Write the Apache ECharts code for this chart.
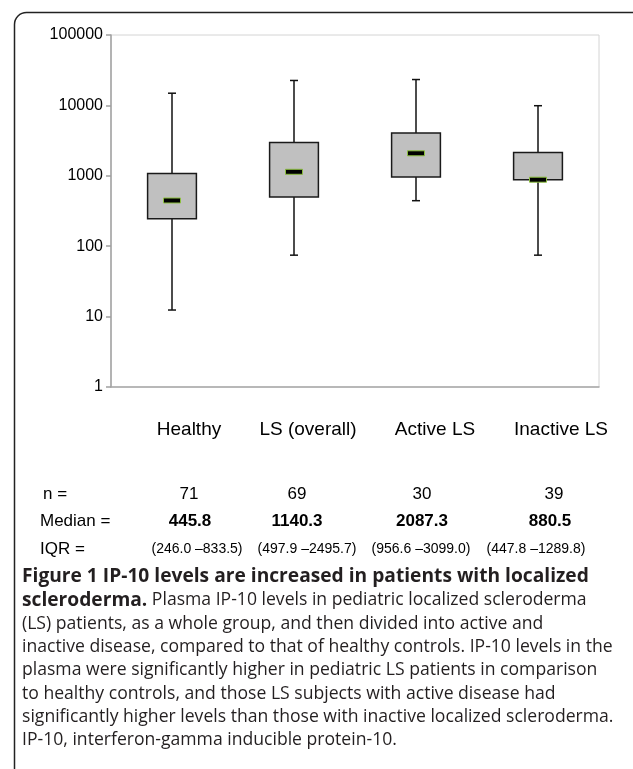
<!DOCTYPE html>
<html>
<head>
<meta charset="utf-8">
<script src="https://cdn.jsdelivr.net/npm/echarts@6/dist/echarts.min.js"></script>
<style>
html,body{margin:0;padding:0;background:#fff;}
#chart{width:633px;height:769px;}
</style>
</head>
<body>
<div id="chart"></div>
<script>
// ---- data ----
const categories = ['Healthy', 'LS (overall)', 'Active LS', 'Inactive LS'];
const whiskerLow  = [12.4, 74.6, 443, 74.6];
const q1          = [246, 499, 958, 877];
const medians     = [445.8, 1140.3, 2087.3, 880.5];
const q3          = [1081, 2975, 4050, 2150];
const whiskerHigh = [14900, 22600, 23300, 9900];
const nValues     = [71, 69, 30, 39];
const medianLabels = ['445.8', '1140.3', '2087.3', '880.5'];
const iqrLabels   = ['(246.0 \u2013833.5)', '(497.9 \u20132495.7)', '(956.6 \u20133099.0)', '(447.8 \u20131289.8)'];
const rowTitles   = ['n =', 'Median =', 'IQR ='];
const captionTitle = 'Figure 1 IP-10 levels are increased in patients with localized';
const captionBoldStart = 'scleroderma.';
const captionLines = [
  ' Plasma IP-10 levels in pediatric localized scleroderma',
  '(LS) patients, as a whole group, and then divided into active and',
  'inactive disease, compared to that of healthy controls. IP-10 levels in the',
  'plasma were significantly higher in pediatric LS patients in comparison',
  'to healthy controls, and those LS subjects with active disease had',
  'significantly higher levels than those with inactive localized scleroderma.',
  'IP-10, interferon-gamma inducible protein-10.'
];

// ---- layout (kept apart from the data) ----
const catShift = [17, 14, 19, 23];
const nShift = [17, 3, 6, 16];
const medShift = [18, 3, 6, 12];
const iqrShift = [25, 13, 5, -2];

function shiftedRich(shifts, extra) {
  const r = {};
  shifts.forEach((s, i) => {
    const st = Object.assign({}, extra);
    st.padding = s >= 0 ? [0, 0, 0, 2 * s] : [0, -2 * s, 0, 0];
    r['s' + i] = st;
  });
  return r;
}
function fmt(list) {
  return function (v, i) { return '{s' + i + '|' + list[i] + '}'; };
}

const boxData = categories.map((c, i) => [i, whiskerLow[i], q1[i], medians[i], q3[i], whiskerHigh[i]]);

const chart = echarts.init(document.getElementById('chart'), null, {renderer: 'canvas'});

const labelFont = 'Liberation Sans, Arial, sans-serif';
const capFont = '"Open Sans", sans-serif';
const capBody = '17.6px ' + capFont;
const capBold = 'bold 19.2px ' + capFont;

const extraAxis = (margin, list, shifts, extra) => ({
  type: 'category', gridIndex: 0, position: 'bottom', data: categories,
  axisLine: {show: false}, axisTick: {show: false}, splitLine: {show: false},
  axisLabel: {interval: 0, margin: margin, formatter: fmt(list), rich: shiftedRich(shifts, extra)}
});

const captionY0 = 577;
const lineH = 23.3;
const graphics = [
  {type: 'rect', left: 12, top: 10, shape: {x: 0, y: 0, width: 640, height: 775, r: 12},
   style: {fill: 'none', stroke: '#222', lineWidth: 1.5}, silent: true},
  {type: 'text', x: 43, y: 494, style: {text: rowTitles[0], font: '17px ' + labelFont, fill: '#000', textVerticalAlign: 'middle'}},
  {type: 'text', x: 40, y: 521, style: {text: rowTitles[1], font: '17px ' + labelFont, fill: '#000', textVerticalAlign: 'middle'}},
  {type: 'text', x: 40, y: 549, style: {text: rowTitles[2], font: '17px ' + labelFont, fill: '#000', textVerticalAlign: 'middle'}},
  {type: 'text', x: 22, y: captionY0, style: {text: captionTitle, font: capBold, fill: '#231f20', textVerticalAlign: 'middle'}},
  {type: 'text', x: 22, y: captionY0 + lineH, style: {
    text: '{b|' + captionBoldStart + '}{r|' + captionLines[0] + '}',
    textVerticalAlign: 'middle',
    rich: {b: {font: capBold, fill: '#231f20'}, r: {font: capBody, fill: '#231f20'}}
  }}
];
for (let k = 1; k < captionLines.length; k++) {
  graphics.push({type: 'text', x: 22, y: captionY0 + lineH * (k + 1),
    style: {text: captionLines[k], font: capBody, fill: '#231f20', textVerticalAlign: 'middle'}});
}

chart.setOption({
  animation: false,
  backgroundColor: '#fff',
  grid: {left: 111, top: 35, width: 488, height: 352, show: true, borderColor: '#d4d4d4', borderWidth: 1, containLabel: false},
  xAxis: [
    {type: 'category', data: categories, gridIndex: 0, position: 'bottom',
     axisLine: {show: true, lineStyle: {color: '#a8a8a8', width: 1.5}},
     axisTick: {show: false}, splitLine: {show: false},
     axisLabel: {interval: 0, margin: 33, color: '#000', formatter: fmt(categories),
       rich: shiftedRich(catShift, {fontSize: 19, fontFamily: labelFont, color: '#000'})}},
    extraAxis(99, nValues, nShift, {fontSize: 17, fontFamily: labelFont, color: '#000'}),
    extraAxis(126, medianLabels, medShift, {fontSize: 17, fontWeight: 'bold', fontFamily: labelFont, color: '#000'}),
    extraAxis(155, iqrLabels, iqrShift, {fontSize: 14, fontFamily: labelFont, color: '#000'})
  ],
  yAxis: {
    type: 'log', logBase: 10, min: 1, max: 100000,
    axisLine: {show: true, lineStyle: {color: '#a0a0a0', width: 1.5}},
    axisTick: {show: true, length: 5, lineStyle: {color: '#a0a0a0', width: 1.5}},
    splitLine: {show: false},
    axisLabel: {fontSize: 16, fontFamily: labelFont, color: '#000', margin: 8,
      formatter: v => String(Math.round(v))}
  },
  series: [{
    type: 'custom',
    xAxisIndex: 0,
    data: boxData,
    encode: {x: 0, y: [1, 2, 3, 4, 5]},
    renderItem: function (params, api) {
      const i = api.value(0);
      const pLow = api.coord([i, api.value(1)]);
      const pQ1 = api.coord([i, api.value(2)]);
      const pMed = api.coord([i, api.value(3)]);
      const pQ3 = api.coord([i, api.value(4)]);
      const pHigh = api.coord([i, api.value(5)]);
      const bw = api.size([1, 0])[0] * 0.4;
      const cx = pMed[0];
      const capW = 8;
      const wStyle = {stroke: '#111', lineWidth: 1.5};
      return {
        type: 'group',
        children: [
          {type: 'line', shape: {x1: cx, y1: pHigh[1], x2: cx, y2: pLow[1]}, style: wStyle},
          {type: 'line', shape: {x1: cx - capW / 2, y1: pHigh[1], x2: cx + capW / 2, y2: pHigh[1]}, style: wStyle},
          {type: 'line', shape: {x1: cx - capW / 2, y1: pLow[1], x2: cx + capW / 2, y2: pLow[1]}, style: wStyle},
          {type: 'rect', shape: {x: cx - bw / 2, y: pQ3[1], width: bw, height: pQ1[1] - pQ3[1]},
           style: {fill: '#c0c0c0', stroke: '#1a1a1a', lineWidth: 1.5}},
          {type: 'rect', shape: {x: cx - 8.5, y: pMed[1] - 2.5, width: 17, height: 5},
           style: {fill: '#000', stroke: '#8cbf3f', lineWidth: 1}}
        ]
      };
    }
  }],
  graphic: graphics
});
</script>
</body>
</html>
